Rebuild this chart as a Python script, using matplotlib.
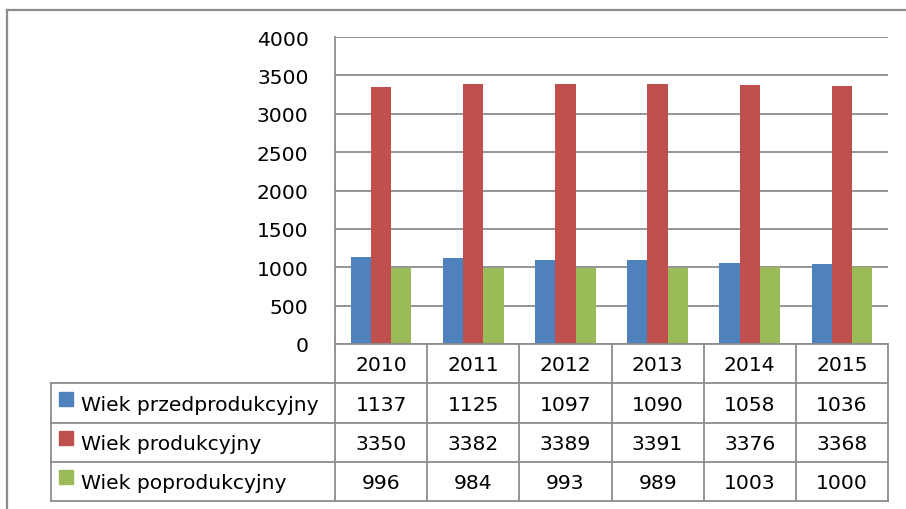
import matplotlib
matplotlib.use('Agg')
import matplotlib.pyplot as plt
from matplotlib.lines import Line2D

years = ['2010', '2011', '2012', '2013', '2014', '2015']
series_names = ['Wiek przedprodukcyjny', 'Wiek produkcyjny', 'Wiek poprodukcyjny']
przed = [1137, 1125, 1097, 1090, 1058, 1036]
prod = [3350, 3382, 3389, 3391, 3376, 3368]
popro = [996, 984, 993, 989, 1003, 1000]
colors = ['#4F81BD', '#C0504D', '#9BBB59']

W, H = 906, 510
plt.rcParams['font.family'] = ['DejaVu Sans']
fs = 14.6
grid_c = '#8C8C8C'

fig = plt.figure(figsize=(W / 100, H / 100), dpi=100)

# pixel geometry of the plot area and table
px_l, px_r, px_t, px_b = 335, 888, 38, 345
tab_l, tab_b = 51, 502

ax = fig.add_axes([px_l / W, 1 - px_b / H, (px_r - px_l) / W, (px_b - px_t) / H])
n = len(years)
xs = list(range(n))
bw = 0.22
for k, vals in enumerate([przed, prod, popro]):
    ax.bar([x + (k - 1) * bw for x in xs], vals, width=bw, color=colors[k],
           zorder=3)
ax.set_xlim(-0.5, n - 0.5)
ax.set_ylim(0, 4000)
ax.set_yticks(range(0, 4001, 500))
ax.tick_params(axis='y', length=0, pad=19, labelsize=fs)
ax.set_xticks([])
ax.yaxis.grid(True, color=grid_c, linewidth=1.3, zorder=0)
for s in ['top', 'right', 'bottom']:
    ax.spines[s].set_visible(False)
ax.spines['left'].set_color(grid_c)
ax.spines['left'].set_linewidth(1.3)

# data table below the plot, sharing the category scale
units_per_px = n / (px_r - px_l)
x_left = -0.5 - (px_l - tab_l) * units_per_px
tax = fig.add_axes([tab_l / W, 1 - tab_b / H, (px_r - tab_l) / W, (tab_b - px_b) / H])
tax.set_xlim(x_left, n - 0.5)
tax.set_ylim(4, 0)
tax.axis('off')

lw = 1.3
# horizontal lines
tax.plot([-0.5, n - 0.5], [0, 0], color=grid_c, lw=lw, clip_on=False)
for r in [1, 2, 3, 4]:
    tax.plot([x_left, n - 0.5], [r, r], color=grid_c, lw=lw, clip_on=False)
# vertical lines
for c in range(n + 1):
    tax.plot([c - 0.5, c - 0.5], [0, 4], color=grid_c, lw=lw, clip_on=False)
tax.plot([x_left, x_left], [1, 4], color=grid_c, lw=lw, clip_on=False)

for i, y in enumerate(years):
    tax.text(i, 0.53, y, ha='center', va='center', fontsize=fs)

key_x = x_left + 15 * units_per_px
lab_x = x_left + 30 * units_per_px
for k, (name, vals) in enumerate(zip(series_names, [przed, prod, popro])):
    row = k + 1.5
    tax.plot([key_x], [row - 0.1], marker='s', markersize=10.5, color=colors[k],
             linestyle='none', clip_on=False)
    tax.text(lab_x, row + 0.03, name, ha='left', va='center', fontsize=fs)
    for i, v in enumerate(vals):
        tax.text(i, row + 0.03, str(v), ha='center', va='center', fontsize=fs)

# outer chart border (top and left only visible)
fig.add_artist(Line2D([7 / W, 1], [1 - 11 / H, 1 - 11 / H], color='#8C8C8C', lw=1.6))
fig.add_artist(Line2D([7 / W, 7 / W], [1 - 11 / H, 0], color='#8C8C8C', lw=1.6))

fig.savefig('out.png', dpi=100)
